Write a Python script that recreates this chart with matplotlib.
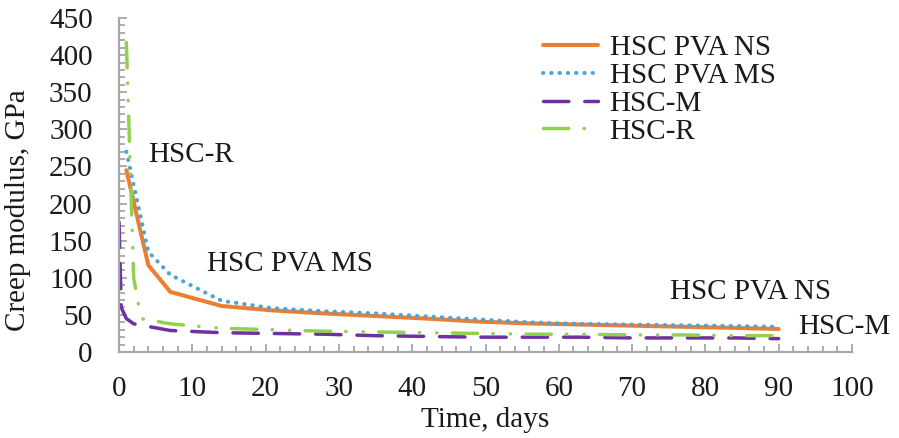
import numpy as np
import matplotlib
matplotlib.use("Agg")
import matplotlib.pyplot as plt
from matplotlib.ticker import MultipleLocator

#---------------data---------------
days_ns = [1, 4, 7, 14, 21, 28, 35, 42, 49, 56, 63, 70, 77, 84, 90]
pva_ns = [245, 117, 81, 62, 56, 52, 48.5, 45, 41, 38.5, 37, 35.5, 34, 32.5, 31]

days_ms = [1, 4, 7, 14, 21, 28, 35, 42, 49, 56, 63, 70, 77, 84, 90]
pva_ms = [270, 135, 104, 69, 59, 55, 52, 48, 44, 40, 38, 37, 36, 35, 34]

days_m = [0, 0.3, 1, 2, 7, 14, 21, 28, 35, 42, 49, 56, 63, 70, 77, 84, 90]
hsc_m = [175, 60, 45, 38, 29, 26, 25, 24, 22, 21, 20, 20, 20, 19, 19, 19, 18]

days_r = [1, 2, 3, 7, 14, 21, 28, 35, 42, 49, 56, 63, 70, 77, 84, 90]
hsc_r = [417, 100, 45, 38, 32, 30, 28, 27, 26, 25, 24, 24, 23, 23, 22, 22]

labels = ["HSC PVA NS", "HSC PVA MS", "HSC-M", "HSC-R"]
notes = [("HSC-R", 4.0, 265), ("HSC PVA MS", 12.0, 118),
         ("HSC PVA NS", 75.2, 81), ("HSC-M", 92.7, 34)]

#---------------style---------------
plt.rcParams['font.family'] = ['Liberation Serif', 'DejaVu Serif']
fs = 21
grey = '#A6A6A6'
txt = '#1a1a1a'

fig = plt.figure(figsize=(8.99, 4.38), dpi=100)
ax = fig.add_axes([0.1324, 0.1963, 0.8153, 0.7626])

l1, = ax.plot(days_ns, pva_ns, color='#ED7D31', lw=2.9, solid_capstyle='round')
l2, = ax.plot(days_ms, pva_ms, color='#4EA3DB', lw=2.9, linestyle=(0, (0.1, 1.95)),
              dash_capstyle='round')
l3, = ax.plot(days_m, hsc_m, color='#7030A0', lw=2.5, linestyle=(0, (7.3, 4.6)),
              dash_capstyle='round')
l4, = ax.plot(days_r, hsc_r, color='#92D050', lw=2.5,
              linestyle=(0, (7.3, 4.4, 0.1, 4.9, 0.1, 4.4)), dash_capstyle='round')

ax.set_xlim(0, 100)
ax.set_ylim(0, 450)
ax.xaxis.set_major_locator(MultipleLocator(10))
ax.xaxis.set_minor_locator(MultipleLocator(2))
ax.yaxis.set_major_locator(MultipleLocator(50))
ax.yaxis.set_minor_locator(MultipleLocator(10))

for s in ['top', 'right']:
    ax.spines[s].set_visible(False)
for s in ['left', 'bottom']:
    ax.spines[s].set_color(grey)
    ax.spines[s].set_linewidth(1.6)

ax.tick_params(axis='both', which='both', direction='in', color=grey, width=1.3,
               labelsize=fs, labelcolor=txt)
ax.tick_params(axis='both', which='major', length=6)
ax.tick_params(axis='both', which='minor', length=4.5)
ax.tick_params(axis='x', which='major', pad=17)
ax.tick_params(axis='y', which='major', pad=19)

ax.set_xlabel("Time, days", fontsize=fs, color=txt)
ax.set_ylabel("Creep modulus, GPa", fontsize=fs, color=txt)
ax.xaxis.set_label_coords(0.5, -0.205)
ax.xaxis.label.set_verticalalignment('center')
ax.yaxis.set_label_coords(-0.138, 0.425)
ax.yaxis.label.set_verticalalignment('center')

for s, x, y in notes:
    ax.text(x, y, s, fontsize=fs, color=txt, ha='left', va='center', clip_on=False)

leg = ax.legend([l1, l2, l3, l4], labels, loc='upper left',
                bbox_to_anchor=(528 / 899, 1 - 20 / 438), bbox_transform=fig.transFigure,
                frameon=False, fontsize=fs, handlelength=1.9, handletextpad=0.4,
                labelspacing=0.05, borderpad=0)
for t in leg.get_texts():
    t.set_color(txt)

fig.savefig("out.png", dpi=100)
